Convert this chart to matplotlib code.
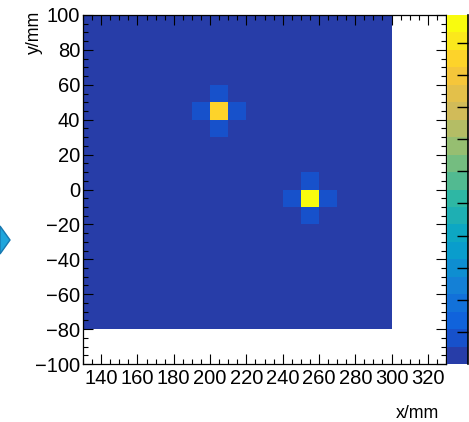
import matplotlib
matplotlib.use('Agg')
import matplotlib.pyplot as plt
import numpy as np
from matplotlib.colors import LinearSegmentedColormap, ListedColormap
from matplotlib.patches import Polygon
from matplotlib.ticker import MultipleLocator

plt.rcParams['font.family'] = ['Liberation Sans', 'DejaVu Sans']

# binning in mm
x_edges = np.arange(130, 301, 10)
y_edges = np.arange(-80, 101, 10)
background = 0.02

# filled bins: bin centre x, y and content
hit_x = [205, 195, 215, 205, 205, 255, 245, 265, 255, 255]
hit_y = [45, 45, 45, 55, 35, -5, -5, -5, 5, -15]
hit_z = [0.95, 0.08, 0.08, 0.08, 0.08, 1.087, 0.08, 0.08, 0.08, 0.08]

z_min, z_max = 0.0, 1.087
n_contours = 20
cbar_ticks = [0.1, 0.2, 0.3, 0.4, 0.5, 0.6, 0.7, 0.8, 0.9, 1.0]

# ROOT kBird palette
stops = [0.0, 0.125, 0.25, 0.375, 0.5, 0.625, 0.75, 0.875, 1.0]
red = [0.2082, 0.0592, 0.0780, 0.0232, 0.1802, 0.5301, 0.8186, 0.9956, 0.9764]
green = [0.1664, 0.3599, 0.5041, 0.6419, 0.7178, 0.7492, 0.7328, 0.7862, 0.9832]
blue = [0.5293, 0.8684, 0.8385, 0.7914, 0.6425, 0.4662, 0.3499, 0.1968, 0.0539]
bird = LinearSegmentedColormap.from_list('bird', list(zip(stops, zip(red, green, blue))), N=255)
band_cols = [bird(int((i + 0.99) * 255 / n_contours) / 254) for i in range(n_contours)]
cmap = ListedColormap(band_cols)

z = np.full((len(y_edges) - 1, len(x_edges) - 1), background)
for x, y, v in zip(hit_x, hit_y, hit_z):
    z[np.searchsorted(y_edges, y) - 1, np.searchsorted(x_edges, x) - 1] = v

W, H = 469, 422
fig = plt.figure(figsize=(W / 100, H / 100), dpi=100)
ax = fig.add_axes([83 / W, 1 - 364 / H, (446 - 83) / W, (364 - 15) / H])
mesh = ax.pcolormesh(x_edges, y_edges, z, cmap=cmap, vmin=z_min, vmax=z_max)
ax.set_xlim(130, 330)
ax.set_ylim(-100, 100)
ax.xaxis.set_major_locator(MultipleLocator(20))
ax.xaxis.set_minor_locator(MultipleLocator(5))
ax.yaxis.set_major_locator(MultipleLocator(20))
ax.yaxis.set_minor_locator(MultipleLocator(5))
ax.tick_params(which='both', direction='in', top=True, right=True, width=0.8, labelsize=14.5)
ax.tick_params(which='major', length=7.5)
ax.tick_params(which='minor', length=3.6)
ax.tick_params(axis='x', pad=3.5)
ax.tick_params(axis='y', pad=2)
for s in ax.spines.values():
    s.set_linewidth(0.9)

# colour scale, labels fall outside the canvas
cax = fig.add_axes([447 / W, 1 - 364 / H, 21 / W, 349 / H])
cb = fig.colorbar(mesh, cax=cax, ticks=cbar_ticks)
cb.outline.set_visible(False)
cax.minorticks_off()
cax.tick_params(direction='in', length=8, width=1, right=True, labelright=False)
cax.plot([1, 1], [0, 1], transform=cax.transAxes, color='k', lw=1.2, clip_on=False)

fig.text(439 / W, 1 - 418 / H, 'x/mm', ha='right', va='baseline', fontsize=12.8)
fig.text(26 / W, 1 - 11 / H, 'y/mm', ha='left', va='top', rotation=90, fontsize=12.8)

# piece of an arrow at the left edge
fig.patches.append(Polygon([(0, 1 - 226 / H), (10 / W, 1 - 240 / H), (0, 1 - 254 / H)],
                           closed=True, transform=fig.transFigure,
                           facecolor='#1fa5dc', edgecolor='#1778b0', lw=1))

fig.savefig('out.png', dpi=100)
